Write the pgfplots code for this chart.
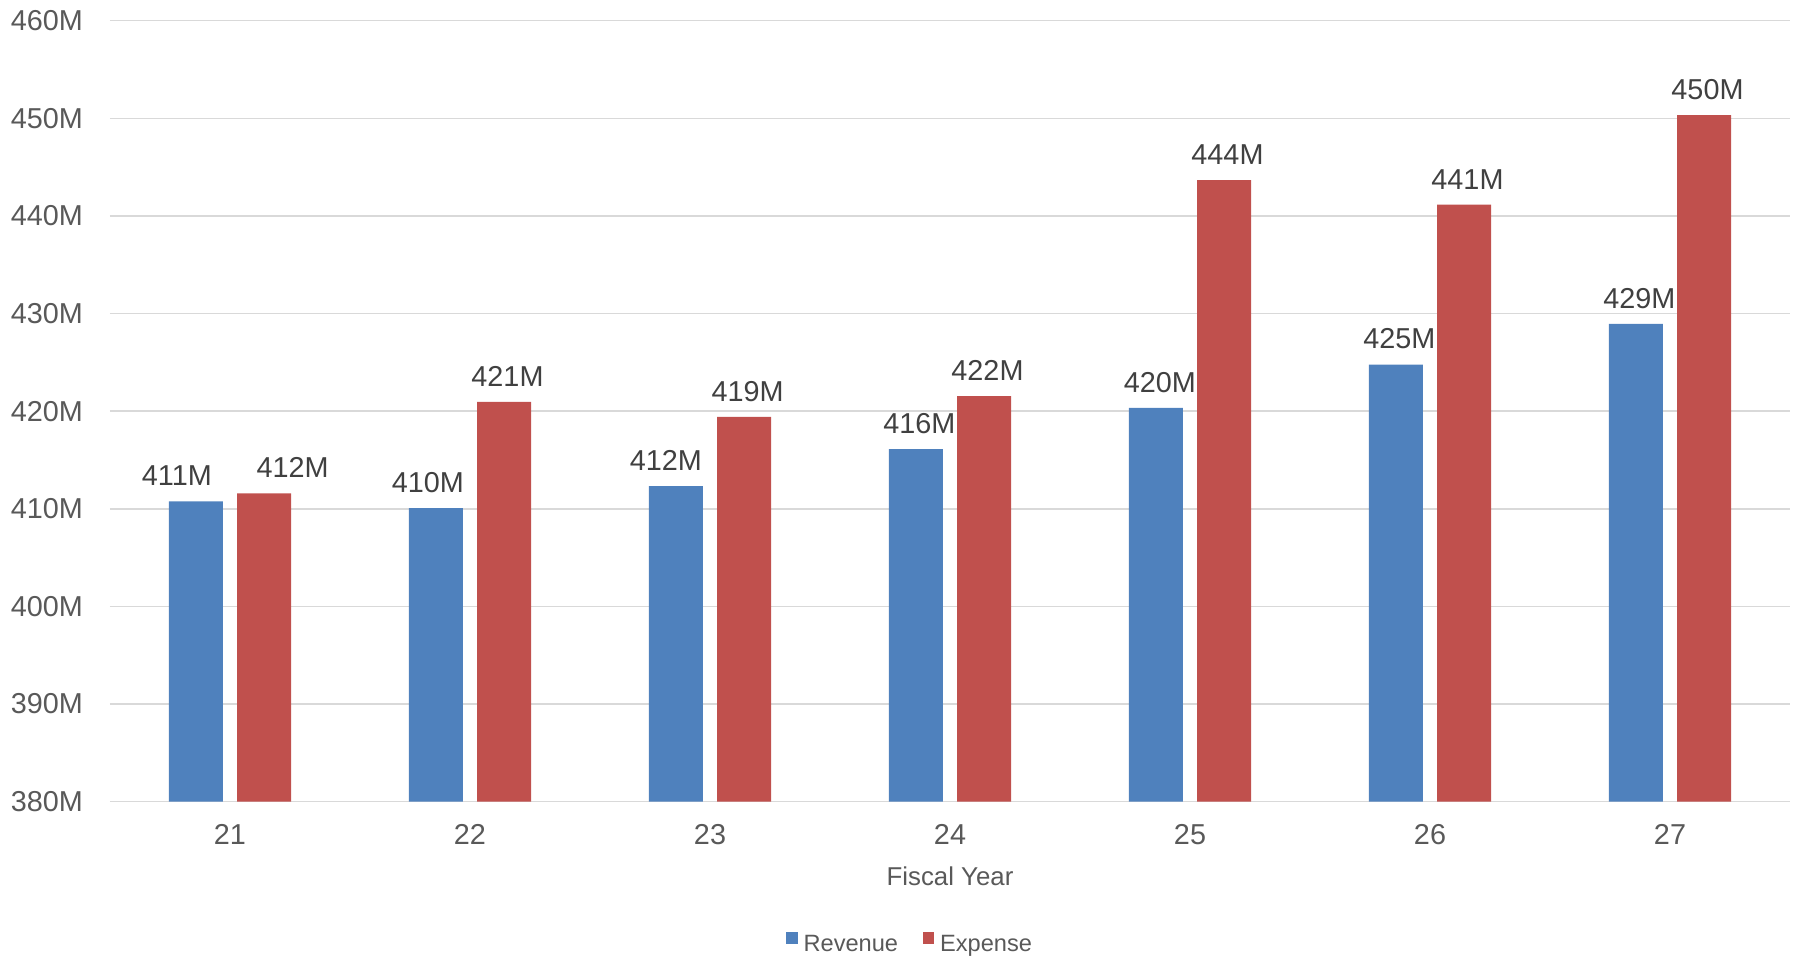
\documentclass[border=0pt]{standalone}
\usepackage{pgfplots}
\pgfplotsset{compat=1.18}
\usepackage{pgfplotstable}
\usepackage{fontspec}
\setmainfont{Liberation Sans}

\definecolor{revblue}{HTML}{4F81BD}
\definecolor{expred}{HTML}{C0504D}
\definecolor{labelgray}{HTML}{595959}
\definecolor{valuegray}{HTML}{404040}
\definecolor{gridgray}{HTML}{D9D9D9}

% Revenue and expense per fiscal year (millions); rdx/edx nudge the value labels sideways (pt)
\pgfplotstableread{
x revenue rdx expense edx
0 410.77 -9.5 411.58 14.3
1 410.07 -4.0 420.96 1.7
2 412.32 -5.0 419.42 1.8
3 416.11 1.7 421.55 1.7
4 420.34 2.0 443.66 1.7
5 424.76 1.7 441.16 1.7
6 428.94 1.7 450.34 1.7
}\budget

% half the distance between the two bar centres of a year, in pt (0.142 units x 120pt)
\def\baroffset{17.04}

\pgfplotsset{
  squarelegend/.style={legend image code/.code={
      \fill[##1] (0pt,0pt) rectangle (5.8pt,5.8pt);
      \path (8.8pt,0pt);}},
}

\begin{document}
\begin{tikzpicture}
\useasboundingbox (-55pt,-77.65pt) rectangle (844pt,400.85pt);
\begin{axis}[
  at={(0,0)}, anchor=south west,
  scale only axis, width=840pt, height=390.5pt,
  xmin=-0.5, xmax=6.5, ymin=380, ymax=460,
  clip=false,
  /pgf/number format/assume math mode=true,
  xtick={0,...,6}, xticklabels={21,22,23,24,25,26,27},
  ytick={380,390,...,460},
  yticklabels={380M,390M,400M,410M,420M,430M,440M,450M,460M},
  major tick length=0pt,
  axis line style={draw=none},
  ymajorgrids, grid style={gridgray, line width=0.75pt},
  tick label style={font=\fontsize{14.4}{16}\selectfont, text=labelgray},
  yticklabel style={inner sep=0pt, anchor=east, xshift=-13.3pt},
  xticklabel style={inner sep=0pt, anchor=north, yshift=-11.3pt},
  xlabel={Fiscal Year},
  every axis x label/.style={at={(axis description cs:0.5,0)}, anchor=north,
    inner sep=0pt, yshift=-32.5pt, font=\fontsize{12.9}{15}\selectfont, text=labelgray},
  nodes near coords={\pgfmathprintnumber[fixed,precision=0]{\pgfplotspointmeta}M},
  every node near coord/.style={anchor=south, yshift=4.25pt,
    font=\fontsize{14.4}{16}\selectfont, text=valuegray},
  legend columns=2,
  legend style={at={(axis description cs:0.4024,-0.19206)}, anchor=south west,
    draw=none, fill=none, inner sep=0pt, outer sep=0pt,
    font=\fontsize{11.8}{14}\selectfont, text=labelgray,
    nodes={inner sep=0pt, text depth=0pt},
    /tikz/every even column/.append style={column sep=12.2pt}},
]
\addplot[ybar, bar width=0.225, bar shift=-0.142, fill=revblue, draw=none,
  visualization depends on={\thisrow{rdx} \as \dx},
  every node near coord/.append style={xshift={\dx pt-\baroffset pt}}, squarelegend]
  table[x=x, y=revenue] {\budget};
\addlegendentry{Revenue}
\addplot[ybar, bar width=0.225, bar shift=0.142, fill=expred, draw=none,
  visualization depends on={\thisrow{edx} \as \dx},
  every node near coord/.append style={xshift={\dx pt+\baroffset pt}}, squarelegend]
  table[x=x, y=expense] {\budget};
\addlegendentry{Expense}
\end{axis}
\end{tikzpicture}
\end{document}
